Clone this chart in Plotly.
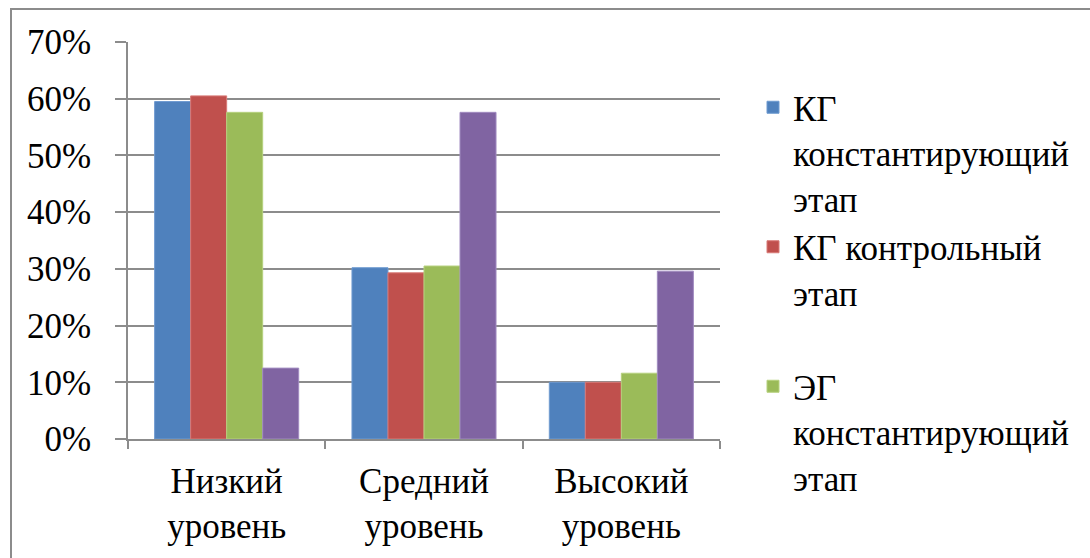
import plotly.graph_objects as go

categories = ["Низкий<br>уровень", "Средний<br>уровень", "Высокий<br>уровень"]
series_names = [
    "КГ<br>константирующий<br>этап",
    "КГ контрольный<br>этап<br>\u00a0",
    "ЭГ<br>константирующий<br>этап",
    "ЭГ контрольный<br>этап",
]
kg_const = [59.5, 30.2, 10.0]
kg_control = [60.5, 29.3, 10.0]
eg_const = [57.6, 30.5, 11.6]
eg_control = [12.5, 57.6, 29.6]
values = [kg_const, kg_control, eg_const, eg_control]
colors = ["#4F81BD", "#C0504D", "#9BBB59", "#8064A2"]
edge_colors = ["#6E9AD0", "#D87A77", "#B6D17E", "#A08BC0"]
show_legend = [True, True, True, False]
tick_vals = [0, 10, 20, 30, 40, 50, 60, 70]
tick_text = ["0%", "10%", "20%", "30%", "40%", "50%", "60%", "70%"]

FONT = "Times New Roman, Tinos, Liberation Serif, Noto Serif, DejaVu Serif, serif"
W, H = 1090, 558
L, R, T, B = 128, 370, 42, 119
pw, ph = W - L - R, H - T - B

fig = go.Figure()
for name, vals, c, ec, sl in zip(series_names, values, colors, edge_colors, show_legend):
    fig.add_trace(go.Bar(
        x=categories, y=vals, name=name, showlegend=sl,
        marker=dict(color=c, line=dict(color=ec, width=1)),
    ))

def px_x(p):
    return (p - L) / pw

def px_y(p):
    return (H - B - p) / ph

fig.add_shape(type="rect", xref="paper", yref="paper",
              x0=px_x(11), x1=px_x(1100), y0=px_y(570), y1=px_y(9),
              line=dict(color="#8c8c8c", width=2), fillcolor="rgba(0,0,0,0)", layer="below")

fig.update_layout(
    width=W, height=H,
    margin=dict(l=L, r=R, t=T, b=B),
    paper_bgcolor="white", plot_bgcolor="white",
    barmode="group", bargap=0.27, bargroupgap=0,
    font=dict(family=FONT, size=35, color="black"),
    legend=dict(x=px_x(753), y=px_y(78), xanchor="left", yanchor="top",
                valign="top", font=dict(family=FONT, size=35, color="black"),
                bgcolor="rgba(0,0,0,0)", tracegroupgap=0, maxheight=520),
    xaxis=dict(showline=True, linecolor="#8c8c8c", linewidth=1.5,
               ticks="outside", tickson="boundaries", ticklen=8, tickcolor="#8c8c8c",
               tickwidth=1.5, showgrid=False, ticklabelstandoff=10,
               tickfont=dict(family=FONT, size=35, color="black")),
    yaxis=dict(range=[0, 70], tickvals=tick_vals, ticktext=tick_text,
               showline=True, linecolor="#8c8c8c", linewidth=1.5,
               ticks="outside", ticklen=11, tickcolor="#8c8c8c", tickwidth=1.5,
               showgrid=True, gridcolor="#8c8c8c", gridwidth=1.5,
               zeroline=False, ticklabelstandoff=17,
               tickfont=dict(family=FONT, size=35, color="black")),
)

fig.write_html("out.html")
